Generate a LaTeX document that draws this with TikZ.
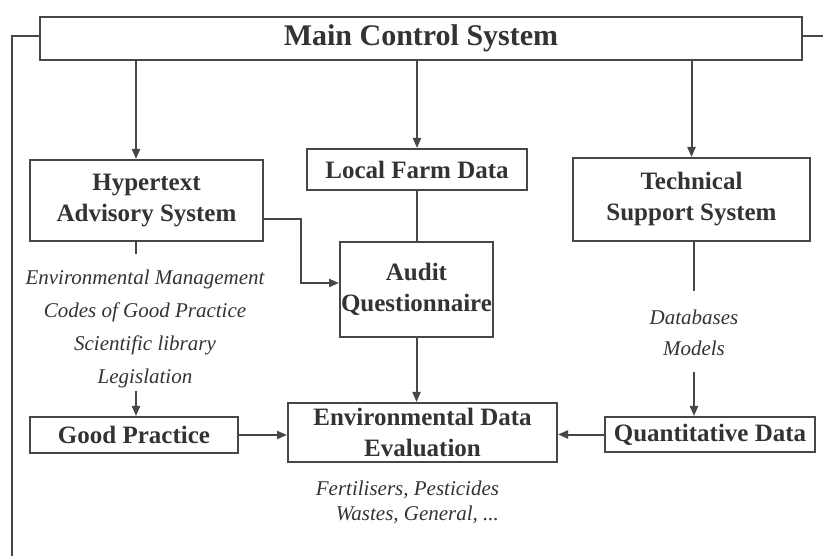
\documentclass[tikz,border=0pt]{standalone}
\usepackage{fontspec}
\setmainfont{Liberation Serif}
\usetikzlibrary{calc}
\usetikzlibrary{arrows.meta}
\tikzset{
	align=center,
	unit/.style={
		draw,
		rectangle,
		inner sep=0pt,
		text=black!80,
		font=\fontsize{25}{31}\selectfont\bfseries,
	},
	note/.style={
		inner sep=2pt,
		text=black!80,
		font=\fontsize{21}{33}\selectfont\itshape,
	},
	flow/.style={
		-{Triangle[length=10pt,width=8pt]}
	},
}

\begin{document}
\begin{tikzpicture}[x=1pt, y=-1pt, color=black!72, line width=2pt]
		\useasboundingbox (0,0) rectangle (823,556);

		\node[unit, minimum width=762pt, minimum height=43pt, font=\fontsize{30}{36}\selectfont\bfseries] (main) at (421,38.5) {Main Control System};
		\node[unit, minimum width=233pt, minimum height=81pt] (hyper) at (146.5,200.5) {Hypertext\\Advisory System};
		\node[unit, minimum width=220pt, minimum height=41pt] (local) at (417,169.5) {Local Farm Data};
		\node[unit, minimum width=237pt, minimum height=83pt] (tech) at (691.5,199.5) {Technical\\Support System};
		\node[unit, minimum width=153pt, minimum height=95pt] (audit) at (416.5,289.5) {Audit\\Questionnaire};
		\node[unit, minimum width=208pt, minimum height=36pt] (good) at (134,435) {Good Practice};
		\node[unit, minimum width=269pt, minimum height=59pt] (env) at (422.5,432.5) {Environmental Data\\Evaluation};
		\node[unit, minimum width=210pt, minimum height=35pt] (quant) at (710,434.5) {Quantitative Data};

		\node[note] (hyplist) at (145,328.5) {Environmental Management\\Codes of Good Practice\\Scientific library\\Legislation};
		\node[note, font=\fontsize{21}{31}\selectfont\itshape] (techlist) at (694,332.5) {Databases\\Models};
		\node[note, align=right, anchor=east, font=\fontsize{21}{25}\selectfont\itshape] (envlist) at (502,502) {Fertilisers, Pesticides\\Wastes, General, ...};

		\coordinate (hcol) at (136,0);
		\coordinate (tcol) at (694,0);
		\coordinate (lend) at (12,556);
		\coordinate (rend) at (823,36);

%		\draw[dashed] (main.south) -- (env.north);
		\draw ([yshift=2.5pt]main.west) -| (lend);
		\draw ([yshift=2.5pt]main.east) -- (rend);

		\draw[flow] (main.south -| hcol) -- (hyper.north -| hcol);
		\draw[flow] (main.south -| local) -- (local.north);
		\draw[flow] (main.south -| tech) -- (tech.north);
		\draw (local.south) -- (audit.north -| local);
		\draw[flow] ([yshift=-18.5pt]hyper.east) -- ++(37,0) |- ([yshift=6.5pt]audit.west);

		\draw[shorten >=12pt] (hyper.south -| hcol) -- (hyplist.north -| hcol);
		\draw[flow] (hyplist.south -| hcol) -- (good.north -| hcol);
		\draw[shorten >=16pt] (tech.south -| tcol) -- (techlist.north -| tcol);
		\draw[flow, shorten <=14pt] (techlist.south -| tcol) -- (quant.north -| tcol);

		\draw[flow] (audit.south) -- (env.north -| audit);
		\draw[flow] (good.east) -- (good.east -| env.west);
		\draw[flow] (quant.west) -- (quant.west -| env.east);

	\end{tikzpicture}
\end{document}
